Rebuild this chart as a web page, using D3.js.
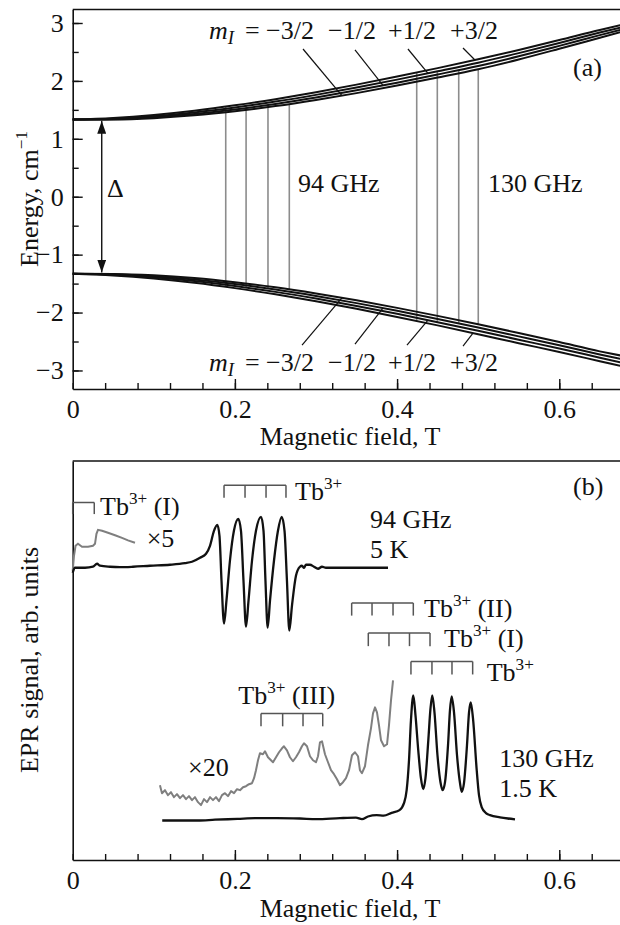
<!DOCTYPE html>
<html><head><meta charset="utf-8">
<script src="https://cdn.jsdelivr.net/npm/d3@7"></script>
<style>
body{margin:0;background:#fff}
svg{display:block}
text{font-family:"Liberation Serif","Times New Roman",serif;fill:#111}
</style></head><body>
<svg id="c" width="620" height="925"></svg>
<script>
// ---------------- DATA ----------------
// Panel (a): energy levels vs magnetic field (T), cm^-1
const fieldGrid = [0, 0.05, 0.1, 0.15, 0.2, 0.25, 0.3, 0.35, 0.4, 0.45, 0.5, 0.55, 0.6, 0.65, 0.675];
const upperM32 = [1.332, 1.334, 1.357, 1.405, 1.476, 1.565, 1.671, 1.789, 1.919, 2.057, 2.202, 2.370, 2.555, 2.745, 2.840];
const upperM12 = [1.332, 1.339, 1.372, 1.429, 1.507, 1.603, 1.714, 1.837, 1.970, 2.111, 2.258, 2.425, 2.605, 2.790, 2.880];
const upperP12 = [1.332, 1.348, 1.391, 1.456, 1.541, 1.643, 1.759, 1.886, 2.022, 2.166, 2.315, 2.480, 2.655, 2.835, 2.920];
const upperP32 = [1.332, 1.361, 1.413, 1.486, 1.578, 1.685, 1.805, 1.936, 2.075, 2.221, 2.373, 2.535, 2.705, 2.880, 2.960];
const lowerM32 = [-1.332, -1.334, -1.357, -1.405, -1.476, -1.565, -1.671, -1.789, -1.919, -2.057, -2.202, -2.353, -2.510, -2.670, -2.740];
const lowerM12 = [-1.332, -1.339, -1.372, -1.429, -1.507, -1.603, -1.714, -1.837, -1.970, -2.111, -2.258, -2.411, -2.565, -2.725, -2.800];
const lowerP12 = [-1.332, -1.348, -1.391, -1.456, -1.541, -1.643, -1.759, -1.886, -2.022, -2.166, -2.315, -2.470, -2.620, -2.780, -2.860];
const lowerP32 = [-1.332, -1.361, -1.413, -1.486, -1.578, -1.685, -1.805, -1.936, -2.075, -2.221, -2.373, -2.529, -2.680, -2.840, -2.920];
// resonance fields (T), ordered +3/2, +1/2, -1/2, -3/2
const trans94Fields = [0.1887, 0.2138, 0.2408, 0.2671];
const trans130Fields = [0.4242, 0.4496, 0.4760, 0.5001];
const deltaHalf = 1.31;

// ticks
const xMajorTicks = [0, 0.2, 0.4, 0.6];
const xTickLabels = ["0", "0.2", "0.4", "0.6"];
const xMinorTicks = [0, 0.04, 0.08, 0.12, 0.16, 0.2, 0.24, 0.28, 0.32, 0.36, 0.4, 0.44, 0.48, 0.52, 0.56, 0.6, 0.64];
const yMajorTicksA = [-3, -2, -1, 0, 1, 2, 3];
const yTickLabelsA = ["\u22123", "\u22122", "\u22121", "0", "1", "2", "3"];
const yMinorTicksA = [-3, -2.5, -2, -1.5, -1, -0.5, 0, 0.5, 1, 1.5, 2, 2.5, 3];

// Panel (b): EPR traces [field T, signal arb. units]
const trace94Main = [[0.0000,72.0],[0.0028,73.25],[0.0152,73.25],[0.0250,73.5],[0.0300,74.25],[0.0337,73.75],[0.0460,73.5],[0.0583,73.4],[0.0744,73.5],[0.0953,73.75],[0.1200,74.0],[0.1385,74.4],[0.1471,74.75],[0.1570,75.75],[0.1644,76.75],[0.1693,78.75],[0.1742,82.5],[0.1783,84.0],[0.1810,81.25],[0.1835,70.0],[0.1866,59.25],[0.1896,65.0],[0.1939,75.0],[0.1988,82.5],[0.2042,85.5],[0.2075,82.5],[0.2106,70.0],[0.2137,58.5],[0.2168,65.0],[0.2211,75.0],[0.2260,82.5],[0.2322,86.0],[0.2353,82.5],[0.2377,70.0],[0.2404,58.25],[0.2433,65.0],[0.2482,75.0],[0.2531,82.5],[0.2577,86.0],[0.2612,82.5],[0.2642,70.0],[0.2671,57.5],[0.2704,63.75],[0.2753,71.25],[0.2802,73.5],[0.2827,73.75],[0.2852,73.25],[0.2877,74.0],[0.2926,74.0],[0.2975,73.5],[0.3025,73.0],[0.3074,73.5],[0.3123,73.25],[0.3296,73.25],[0.3542,73.25],[0.3888,73.25]];
const trace94Gray = [[0.0000,72.5],[0.0016,76.25],[0.0035,78.75],[0.0065,79.25],[0.0115,78.5],[0.0189,78.5],[0.0250,78.75],[0.0275,79.25],[0.0293,81.75],[0.0312,82.75],[0.0362,82.5],[0.0435,82.0],[0.0522,81.4],[0.0608,80.75],[0.0682,80.1],[0.0768,79.5]];
const trace130Main = [[0.1104,9.9],[0.1323,9.9],[0.1543,9.9],[0.1755,10.1],[0.2030,10.3],[0.2248,10.5],[0.2518,10.5],[0.2803,10.4],[0.3006,10.25],[0.3296,10.5],[0.3493,10.6],[0.3567,10.25],[0.3641,10.9],[0.3748,11.25],[0.3835,11.1],[0.3932,11.8],[0.4030,12.5],[0.4085,14.25],[0.4118,17.5],[0.4147,25.0],[0.4171,35.0],[0.4200,41.25],[0.4227,36.25],[0.4261,27.5],[0.4294,20.5],[0.4323,17.75],[0.4350,20.5],[0.4385,30.0],[0.4412,38.0],[0.4434,41.25],[0.4461,37.0],[0.4498,26.25],[0.4535,19.5],[0.4562,17.5],[0.4591,19.5],[0.4628,28.75],[0.4652,37.5],[0.4673,41.0],[0.4702,37.0],[0.4739,26.25],[0.4776,19.25],[0.4797,17.1],[0.4825,19.25],[0.4862,28.75],[0.4887,37.0],[0.4908,39.5],[0.4936,35.5],[0.4982,22.5],[0.5010,16.25],[0.5043,13.25],[0.5096,11.75],[0.5146,11.25],[0.5269,10.7],[0.5368,10.4],[0.5454,10.2]];
const trace130Gray = [[0.1076,18.75],[0.1101,16.75],[0.1138,17.5],[0.1175,16.25],[0.1212,17.0],[0.1249,15.75],[0.1286,16.5],[0.1323,15.5],[0.1360,16.25],[0.1397,15.25],[0.1434,16.0],[0.1471,15.0],[0.1508,15.75],[0.1545,14.5],[0.1582,13.75],[0.1619,15.25],[0.1656,14.5],[0.1693,15.75],[0.1730,15.0],[0.1767,15.75],[0.1804,14.75],[0.1841,16.25],[0.1878,16.75],[0.1915,16.0],[0.1952,17.25],[0.1989,16.75],[0.2026,17.75],[0.2063,17.5],[0.2100,18.25],[0.2137,18.5],[0.2174,19.0],[0.2211,19.25],[0.2236,20.5],[0.2260,22.5],[0.2285,25.0],[0.2309,26.75],[0.2346,26.5],[0.2371,27.25],[0.2408,25.75],[0.2445,25.0],[0.2470,24.5],[0.2507,25.75],[0.2544,27.0],[0.2581,28.0],[0.2605,28.5],[0.2642,27.5],[0.2679,25.75],[0.2716,24.75],[0.2753,25.75],[0.2790,27.0],[0.2827,28.5],[0.2852,29.25],[0.2889,28.5],[0.2926,26.0],[0.2963,25.0],[0.3000,24.5],[0.3025,26.0],[0.3049,29.5],[0.3074,29.75],[0.3111,26.5],[0.3148,24.5],[0.3185,22.5],[0.3222,21.5],[0.3259,20.25],[0.3296,18.75],[0.3333,19.5],[0.3370,20.5],[0.3407,22.5],[0.3444,26.25],[0.3481,27.0],[0.3518,26.0],[0.3542,22.5],[0.3567,21.75],[0.3604,23.5],[0.3641,28.75],[0.3678,33.0],[0.3703,36.75],[0.3728,38.25],[0.3752,37.0],[0.3777,33.75],[0.3802,30.0],[0.3839,28.5],[0.3876,29.0],[0.3900,33.75],[0.3925,40.0],[0.3950,45.0]];
// stick-diagram line positions (T)
const stick94Main = [0.1866, 0.2125, 0.2384, 0.2630];
const stick94I = [0.0, 0.0266];
const stick130II = [0.3440, 0.3691, 0.3950, 0.4200];
const stick130I = [0.3645, 0.3900, 0.4153, 0.4406];
const stick130Main = [0.4171, 0.4430, 0.4677, 0.4932];
const stick130III = [0.2322, 0.2589, 0.2840, 0.3083];

// ---------------- DRAWING ----------------
const svg = d3.select("#c");
const FS = 26;
const x = d3.scaleLinear().domain([0, 0.675]).range([72.7, 620.1]);
const yA = d3.scaleLinear().domain([-3.32, 3.233]).range([389, 9.5]);
const yB = d3.scaleLinear().domain([0, 100]).range([860, 461]);

function richText(px, py, parts, opts = {}) {
  const size = opts.size || FS;
  const t = svg.append("text").attr("x", px).attr("y", py).attr("font-size", size);
  if (opts.anchor) t.attr("text-anchor", opts.anchor);
  if (opts.transform) t.attr("transform", opts.transform);
  let shift = 0;
  parts.forEach(p => {
    const s = typeof p === "string" ? {t: p} : p;
    const ts = t.append("tspan").text(s.t);
    let target = 0;
    if (s.sup) { ts.attr("font-size", size * 0.66); target = -size * 0.42; }
    if (s.sub) { ts.attr("font-size", size * 0.72); target = size * 0.2; }
    if (s.it) ts.attr("font-style", "italic");
    if (s.dx) ts.attr("dx", s.dx);
    ts.attr("dy", target - shift);
    shift = target;
  });
  return t;
}

function styleAxis(g, width) {
  g.attr("font-family", null).attr("font-size", null);
  g.selectAll("path.domain").attr("stroke", "#111").attr("stroke-width", width || 1.6);
  g.selectAll(".tick line").attr("stroke", "#111").attr("stroke-width", 1.4);
  g.selectAll(".tick text").attr("font-size", FS).attr("fill", "#111");
}

function drawXAxis(y0) {
  const gm = svg.append("g").attr("transform", `translate(0,${y0})`)
    .call(d3.axisBottom(x).tickValues(xMinorTicks).tickSize(-6).tickSizeOuter(0).tickFormat(""));
  styleAxis(gm); gm.select("path.domain").remove();
  const g = svg.append("g").attr("transform", `translate(0,${y0})`)
    .call(d3.axisBottom(x).tickValues(xMajorTicks).tickFormat((d, i) => xTickLabels[i])
      .tickSize(-10).tickSizeOuter(0).tickPadding(11));
  styleAxis(g);
  g.selectAll(".tick").filter(d => d === 0).select("line").remove();
}

// ---- Panel (a)
{
  const gm = svg.append("g").attr("transform", `translate(${x(0)},0)`)
    .call(d3.axisLeft(yA).tickValues(yMinorTicksA).tickSize(-6).tickSizeOuter(0).tickFormat(""));
  styleAxis(gm); gm.select("path.domain").remove();
  const g = svg.append("g").attr("transform", `translate(${x(0)},0)`)
    .call(d3.axisLeft(yA).tickValues(yMajorTicksA).tickFormat((d, i) => yTickLabelsA[i])
      .tickSize(-10).tickSizeOuter(0).tickPadding(9));
  styleAxis(g);
  drawXAxis(yA.range()[0]);
  svg.append("line").attr("x1", x(0)).attr("x2", x(0.675)).attr("y1", yA(3.233)).attr("y2", yA(3.233))
    .attr("stroke", "#111").attr("stroke-width", 1.6);

  // transitions
  const levelAt = arr => d3.scaleLinear().domain(fieldGrid).range(arr);
  const upOrder = [upperP32, upperP12, upperM12, upperM32];
  const loOrder = [lowerP32, lowerP12, lowerM12, lowerM32];
  [trans94Fields, trans130Fields].forEach(fields => {
    fields.forEach((b, i) => {
      svg.append("line").attr("x1", x(b)).attr("x2", x(b))
        .attr("y1", yA(levelAt(upOrder[i])(b))).attr("y2", yA(levelAt(loOrder[i])(b)))
        .attr("stroke", "#8c8c8c").attr("stroke-width", 1.6);
    });
  });

  const lvl = d3.line().x((d, i) => x(fieldGrid[i])).y(d => yA(d)).curve(d3.curveMonotoneX);
  [upperM32, upperM12, upperP12, upperP32, lowerM32, lowerM12, lowerP12, lowerP32].forEach(arr => {
    svg.append("path").attr("d", lvl(arr)).attr("fill", "none").attr("stroke", "#111").attr("stroke-width", 2);
  });

  // leaders
  const leadersTop = [[0.284, 2.551, 0.332, 1.747], [0.3481, 2.534, 0.3826, 1.924], [0.4134, 2.551, 0.4381, 2.132], [0.4813, 2.568, 0.4960, 2.361]];
  const leadersBot = [[0.2828, -2.561, 0.332, -1.747], [0.3481, -2.544, 0.3826, -1.924], [0.4122, -2.561, 0.4381, -2.132], [0.4813, -2.578, 0.4936, -2.357]];
  leadersTop.concat(leadersBot).forEach(l => {
    svg.append("line").attr("x1", x(l[0])).attr("y1", yA(l[1])).attr("x2", x(l[2])).attr("y2", yA(l[3]))
      .attr("stroke", "#111").attr("stroke-width", 1.2);
  });

  // Δ arrow
  const defs = svg.append("defs");
  defs.append("marker").attr("id", "ah").attr("markerUnits", "userSpaceOnUse")
    .attr("markerWidth", 13).attr("markerHeight", 9).attr("refX", 13).attr("refY", 4.5)
    .attr("orient", "auto-start-reverse")
    .append("path").attr("d", "M0,0L13,4.5L0,9Z").attr("fill", "#111");
  svg.append("line").attr("x1", x(0.0358)).attr("x2", x(0.0358))
    .attr("y1", yA(deltaHalf)).attr("y2", yA(-deltaHalf))
    .attr("stroke", "#111").attr("stroke-width", 1.4)
    .attr("marker-start", "url(#ah)").attr("marker-end", "url(#ah)");

  // labels
  const mRow = (yb) => {
    richText(209, yb, [{t: "m", it: true}, {t: "I", it: true, sub: true}]);
    richText(245, yb, ["="]);
    richText(266, yb, ["\u22123/2"]);
    richText(328, yb, ["\u22121/2"]);
    richText(388, yb, ["+1/2"]);
    richText(450, yb, ["+3/2"]);
  };
  mRow(39);
  mRow(371);
  richText(107, 197, ["\u0394"]);
  richText(298, 192, ["94 GHz"]);
  richText(488, 192, ["130 GHz"]);
  richText(573, 76, ["(a)"]);
  richText(38, 199, ["Energy, cm", {t: "\u22121", sup: true}], {anchor: "middle", transform: "rotate(-90,38,199)"});
  richText(350, 445, ["Magnetic field, T"], {anchor: "middle"});
}

// ---- Panel (b)
{
  const g = svg.append("g").attr("transform", `translate(${x(0)},0)`)
    .call(d3.axisLeft(yB).tickValues([]).tickSizeOuter(0));
  styleAxis(g);
  drawXAxis(yB(0));
  svg.append("line").attr("x1", x(0)).attr("x2", x(0.675)).attr("y1", yB(100)).attr("y2", yB(100))
    .attr("stroke", "#111").attr("stroke-width", 1.6);

  const smooth = d3.line().x(d => x(d[0])).y(d => yB(d[1])).curve(d3.curveMonotoneX);
  const rough = d3.line().x(d => x(d[0])).y(d => yB(d[1]));
  svg.append("path").attr("d", rough(trace94Gray)).attr("fill", "none").attr("stroke", "#7f7f7f").attr("stroke-width", 2);
  svg.append("path").attr("d", rough(trace130Gray)).attr("fill", "none").attr("stroke", "#7f7f7f").attr("stroke-width", 2).attr("stroke-linejoin", "round");
  svg.append("path").attr("d", smooth(trace94Main)).attr("fill", "none").attr("stroke", "#111").attr("stroke-width", 2.3);
  svg.append("path").attr("d", smooth(trace130Main)).attr("fill", "none").attr("stroke", "#111").attr("stroke-width", 2.3);

  // stick diagrams: [positions, top level, leg bottom]
  const sticks = [[stick94I, 89.6, 86.7], [stick94Main, 93.9, 90.8], [stick130II, 64.4, 61.25],
                  [stick130I, 56.9, 53.6], [stick130Main, 49.75, 46.5], [stick130III, 36.7, 33.5]];
  sticks.forEach(([pos, top, bot]) => {
    svg.append("line").attr("x1", x(pos[0])).attr("x2", x(pos[pos.length - 1]))
      .attr("y1", yB(top)).attr("y2", yB(top)).attr("stroke", "#555").attr("stroke-width", 1.5);
    pos.forEach(p => svg.append("line").attr("x1", x(p)).attr("x2", x(p))
      .attr("y1", yB(top)).attr("y2", yB(bot)).attr("stroke", "#555").attr("stroke-width", 1.5));
  });

  const tb = (px, py, suffix) => richText(px, py, ["Tb", {t: "3+", sup: true}, suffix || ""]);
  tb(100, 515, " (I)");
  richText(146.7, 546.7, ["\u00d75"]);
  tb(295, 500);
  richText(573, 495, ["(b)"]);
  richText(370, 528, ["94 GHz"]);
  richText(370, 558, ["5 K"]);
  tb(424, 617, " (II)");
  tb(444, 647, " (I)");
  tb(486.7, 681);
  tb(238.3, 704, " (III)");
  richText(188, 776, ["\u00d720"]);
  richText(499.3, 767, ["130 GHz"]);
  richText(499.3, 797, ["1.5 K"]);
  richText(38, 660, ["EPR signal, arb. units"], {anchor: "middle", transform: "rotate(-90,38,660)"});
  richText(350, 917, ["Magnetic field, T"], {anchor: "middle"});
}
</script>
</body></html>
